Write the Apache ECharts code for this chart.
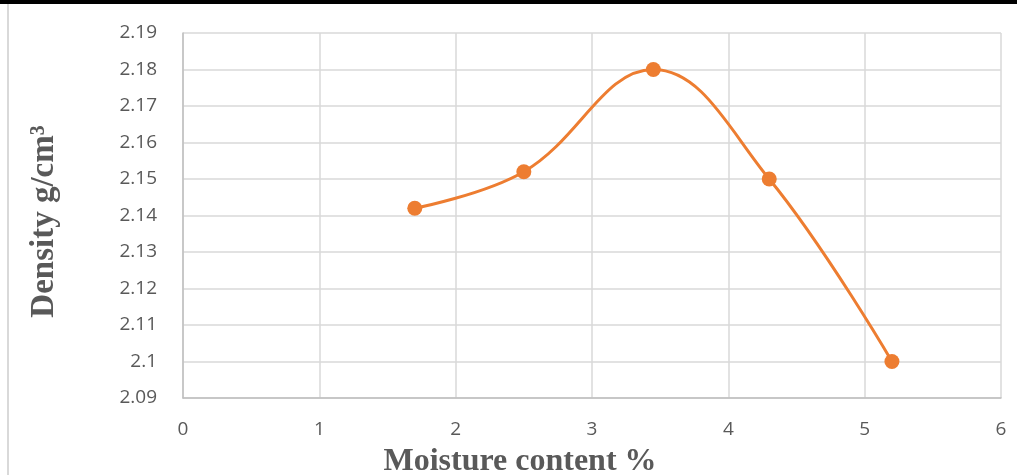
<!DOCTYPE html>
<html><head><meta charset="utf-8">
<script src="https://cdn.jsdelivr.net/npm/echarts@6/dist/echarts.min.js"></script>
<style>html,body{margin:0;padding:0;background:#fff;overflow:hidden}#c{width:1017px;height:475px}</style>
</head><body><div id="c"></div>
<script>
const moisture = [1.7, 2.5, 3.45, 4.3, 5.2];
const density = [2.142, 2.152, 2.18, 2.15, 2.10];
const xTitle = 'Moisture content %';
const yTitle = 'Density g/cm³';

const chart = echarts.init(document.getElementById('c'));
chart.setOption({
  animation: false,
  backgroundColor: '#fff',
  graphic: [
    {type: 'rect', shape: {x: 0, y: 0, width: 1017, height: 4}, style: {fill: '#000'}},
    {type: 'rect', shape: {x: 7, y: 4, width: 2, height: 471}, style: {fill: '#d9d9d9'}}
  ],
  grid: {left: 183, right: 16, top: 33, bottom: 77, containLabel: false, outerBoundsMode: 'none'},
  xAxis: {
    type: 'value', min: 0, max: 6, interval: 1,
    name: xTitle, nameLocation: 'middle', nameGap: 48,
    nameTextStyle: {fontFamily: 'Liberation Serif', fontWeight: 'bold', fontSize: 32, color: '#595959',
      padding: [0, 144, 0, 0]},
    axisLine: {show: true, lineStyle: {color: '#bfbfbf', width: 1.5}},
    axisTick: {show: false},
    axisLabel: {fontFamily: 'Open Sans', fontSize: 19, color: '#595959', margin: 22},
    splitLine: {show: true, lineStyle: {color: '#d9d9d9', width: 1.5}}
  },
  yAxis: {
    type: 'value', min: 2.09, max: 2.19, interval: 0.01,
    name: yTitle, nameLocation: 'middle', nameGap: 122, nameRotate: 90,
    nameTextStyle: {fontFamily: 'Liberation Serif', fontWeight: 'bold', fontSize: 33, color: '#595959',
      padding: [0, 12, 0, 0]},
    axisLine: {show: true, lineStyle: {color: '#bfbfbf', width: 1.5}},
    axisTick: {show: false},
    axisLabel: {fontFamily: 'Open Sans', fontSize: 19, color: '#595959', margin: 26,
      formatter: v => String(parseFloat(v.toFixed(2)))},
    splitLine: {show: true, lineStyle: {color: '#d9d9d9', width: 1.5}}
  },
  series: [{
    type: 'line',
    data: moisture.map((m, i) => [m, density[i]]),
    smooth: 0.4,
    symbol: 'circle', symbolSize: 15,
    lineStyle: {color: '#ed7d31', width: 3},
    itemStyle: {color: '#ed7d31'}
  }]
});
</script></body></html>
